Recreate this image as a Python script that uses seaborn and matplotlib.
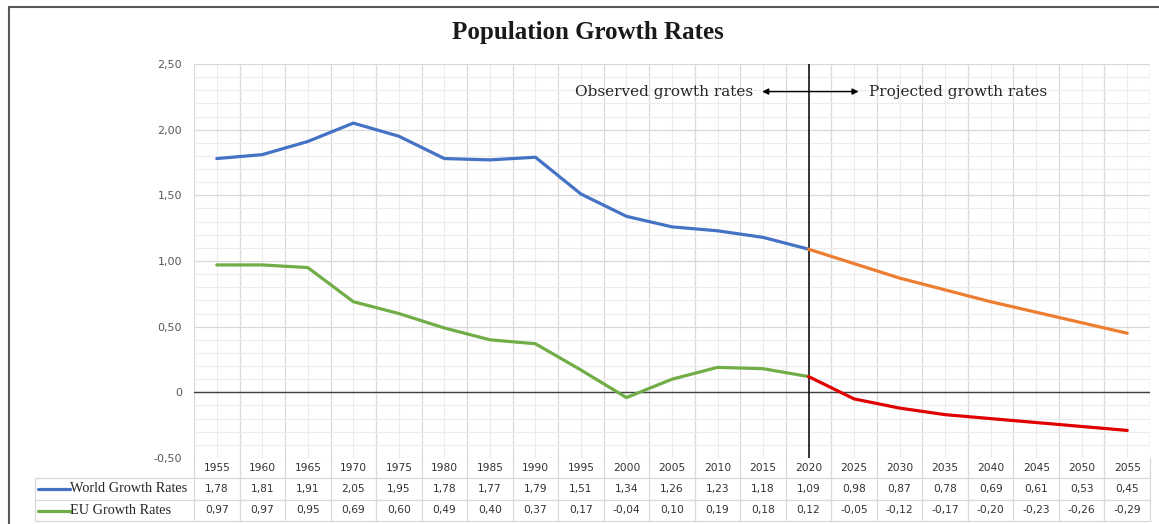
import numpy as np
import pandas as pd
import matplotlib
matplotlib.use("Agg")
import matplotlib.pyplot as plt
import matplotlib.transforms as mtransforms
from matplotlib.lines import Line2D
from matplotlib.ticker import MultipleLocator, FuncFormatter
import seaborn as sns

# ---- data -------------------------------------------------------------
years = [1955, 1960, 1965, 1970, 1975, 1980, 1985, 1990, 1995, 2000, 2005,
         2010, 2015, 2020, 2025, 2030, 2035, 2040, 2045, 2050, 2055]
world_rates = [1.78, 1.81, 1.91, 2.05, 1.95, 1.78, 1.77, 1.79, 1.51, 1.34, 1.26,
               1.23, 1.18, 1.09, 0.98, 0.87, 0.78, 0.69, 0.61, 0.53, 0.45]
eu_rates = [0.97, 0.97, 0.95, 0.69, 0.60, 0.49, 0.40, 0.37, 0.17, -0.04, 0.10,
            0.19, 0.18, 0.12, -0.05, -0.12, -0.17, -0.20, -0.23, -0.26, -0.29]
series_names = ["World Growth Rates", "EU Growth Rates"]
last_observed_year = 2020
title = "Population Growth Rates"
observed_label = "Observed growth rates"
projected_label = "Projected growth rates"

# line colours: observed / projected part of each series
colors = {
    "World Growth Rates observed": "#4472C4",
    "World Growth Rates projected": "#ED7D31",
    "EU Growth Rates observed": "#70AD47",
    "EU Growth Rates projected": "#E00000",
}

# long-form table; the last observed year belongs to both segments so they join
rows = []
for name, values in zip(series_names, [world_rates, eu_rates]):
    for y, v in zip(years, values):
        if y <= last_observed_year:
            rows.append({"year": y, "rate": v, "segment": f"{name} observed"})
        if y >= last_observed_year:
            rows.append({"year": y, "rate": v, "segment": f"{name} projected"})
df = pd.DataFrame(rows)

# ---- style ------------------------------------------------------------
sns.set_theme(style="white")
plt.rcParams["font.family"] = ["DejaVu Sans"]
SERIF = "Liberation Serif"
SERIF_WIDE = "DejaVu Serif"
TXT = "#333333"

W, H = 1159, 524
fig = plt.figure(figsize=(W / 100, H / 100), dpi=100)
fig.patch.set_facecolor("white")

L, R, T, B = 194, 1150, 64, 458
ax = fig.add_axes([L / W, (H - B) / H, (R - L) / W, (B - T) / H])

half = 2.5
ax.set_xlim(years[0] - half, years[-1] + half)
ax.set_ylim(-0.5, 2.5)

# gridlines: column boundaries + column centres, 0.5 and 0.1 steps
ax.set_xticks(np.arange(years[0] - half, years[-1] + half + 0.1, 5))
ax.set_xticks(years, minor=True)
ax.yaxis.set_major_locator(MultipleLocator(0.5))
ax.yaxis.set_minor_locator(MultipleLocator(0.1))
ax.grid(which="major", color="#d9d9d9", lw=0.9)
ax.grid(which="minor", color="#ececec", lw=0.8)
ax.set_axisbelow(True)
for s in ax.spines.values():
    s.set_visible(False)
ax.tick_params(axis="both", which="both", length=0)
ax.tick_params(axis="x", labelbottom=False)
ax.tick_params(axis="y", pad=8.5, labelsize=8, labelcolor="#595959")
ax.yaxis.set_major_formatter(
    FuncFormatter(lambda v, _: "0" if abs(v) < 1e-9 else f"{v:.2f}".replace(".", ",")))

sns.lineplot(data=df, x="year", y="rate", hue="segment", palette=colors,
             linewidth=2.3, legend=False, estimator=None, sort=True, ax=ax)
ax.set_xlabel("")
ax.set_ylabel("")

ax.axhline(0, color="#404040", lw=1.0, zorder=1.5)
ax.axvline(last_observed_year, color="black", lw=1.1, zorder=1.5)

# observed / projected arrows
arrow_y = 2.29
ax.annotate("", xy=(2014.9, arrow_y), xytext=(last_observed_year, arrow_y),
            arrowprops=dict(arrowstyle="-|>", color="black", lw=1.0,
                            mutation_scale=9, shrinkA=0, shrinkB=0))
ax.annotate("", xy=(2025.5, arrow_y), xytext=(last_observed_year, arrow_y),
            arrowprops=dict(arrowstyle="-|>", color="black", lw=1.0,
                            mutation_scale=9, shrinkA=0, shrinkB=0))
ax.text(2013.9, arrow_y, observed_label, ha="right", va="center",
        family=SERIF_WIDE, fontsize=11, color="#262626")
ax.text(2026.6, arrow_y, projected_label, ha="left", va="center",
        family=SERIF_WIDE, fontsize=11, color="#262626")

# ---- data table under the plot ------------------------------------------
tr = mtransforms.blended_transform_factory(ax.transData, ax.transAxes)
hp = B - T
def ay(px):
    return (B - px) / hp

row_year, row_world, row_eu = ay(468), ay(489), ay(510.5)
edges = [ay(458), ay(478), ay(500), ay(521)]
x_left = (35 - L) / (R - L)
line_kw = dict(color="#d9d9d9", lw=0.9, clip_on=False)

for xb in np.arange(years[0] - half, years[-1] + half + 0.1, 5):
    ax.add_line(Line2D([xb, xb], [edges[0], edges[3]], transform=tr, **line_kw))
for e in edges[1:]:
    ax.add_line(Line2D([x_left, 1], [e, e], transform=ax.transAxes, **line_kw))
ax.add_line(Line2D([x_left, x_left], [edges[1], edges[3]],
                   transform=ax.transAxes, **line_kw))

fmt = lambda v: f"{v:.2f}".replace(".", ",")
for i, y in enumerate(years):
    ax.text(y, row_year, str(y), transform=tr, ha="center", va="center",
            fontsize=7.7, color=TXT, clip_on=False)
    ax.text(y, row_world, fmt(world_rates[i]), transform=tr, ha="center",
            va="center", fontsize=7.7, color=TXT, clip_on=False)
    ax.text(y, row_eu, fmt(eu_rates[i]), transform=tr, ha="center",
            va="center", fontsize=7.7, color=TXT, clip_on=False)

key_x0, key_x1, lab_x = (38 - L) / (R - L), (70 - L) / (R - L), (70 - L) / (R - L)
for name, ry in zip(series_names, [row_world, row_eu]):
    ax.add_line(Line2D([key_x0, key_x1], [ry, ry], transform=ax.transAxes,
                       color=colors[f"{name} observed"], lw=2.3, clip_on=False))
    ax.text(lab_x, ry, name, transform=ax.transAxes, ha="left", va="center",
            family=SERIF, fontsize=10.3, color="#262626", clip_on=False)

# ---- title and outer frame ---------------------------------------------
fig.text(588 / W, 1 - 32 / H, title, ha="center", va="center",
         family=SERIF, fontweight="bold", fontsize=18, color="#1a1a1a")
fig.add_artist(Line2D([9 / W, 9 / W], [0, 1 - 7 / H], transform=fig.transFigure,
                      color="#595959", lw=1.5))
fig.add_artist(Line2D([9 / W, 1], [1 - 7 / H, 1 - 7 / H], transform=fig.transFigure,
                      color="#595959", lw=1.5))

fig.savefig("out.png", dpi=100, facecolor="white")
